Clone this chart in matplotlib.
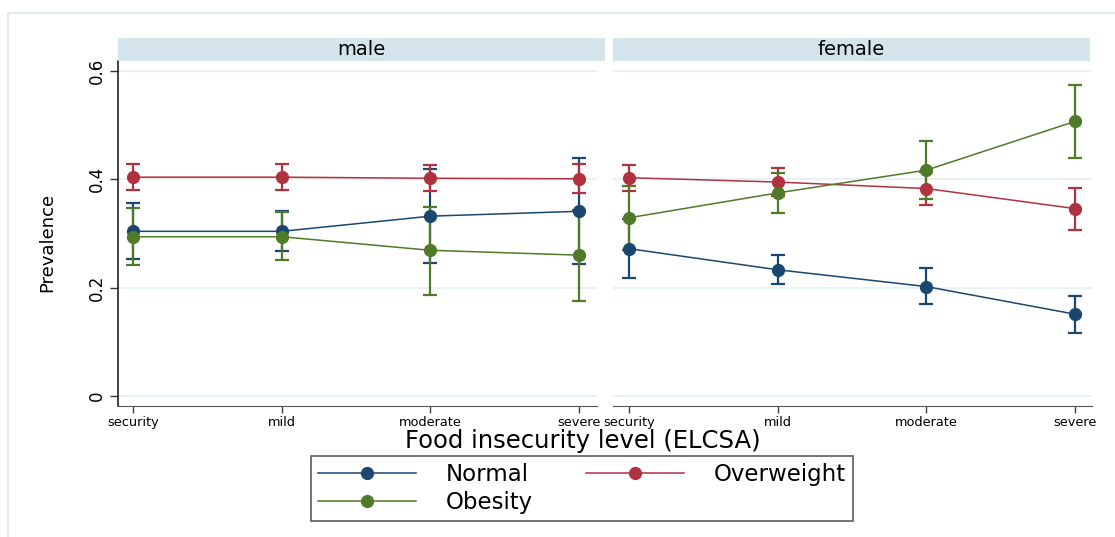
import matplotlib
matplotlib.use("Agg")
import matplotlib.pyplot as plt
from matplotlib.patches import Rectangle
from matplotlib.lines import Line2D

plt.rcParams['font.family'] = ['DejaVu Sans']

levels = ["security", "mild", "moderate", "severe"]
series = ["Normal", "Overweight", "Obesity"]
colors = {"Normal": "#1a476f", "Overweight": "#b0323f", "Obesity": "#4f7a28"}

# prevalence estimates and 95% CI, by sex
male_est = {
    "Normal":     [0.304, 0.304, 0.332, 0.341],
    "Overweight": [0.404, 0.404, 0.402, 0.401],
    "Obesity":    [0.294, 0.294, 0.269, 0.260],
}
male_lo = {
    "Normal":     [0.252, 0.267, 0.245, 0.244],
    "Overweight": [0.380, 0.380, 0.378, 0.374],
    "Obesity":    [0.241, 0.251, 0.187, 0.176],
}
male_hi = {
    "Normal":     [0.357, 0.341, 0.420, 0.439],
    "Overweight": [0.429, 0.429, 0.427, 0.429],
    "Obesity":    [0.347, 0.340, 0.349, 0.344],
}
female_est = {
    "Normal":     [0.272, 0.233, 0.202, 0.151],
    "Overweight": [0.403, 0.395, 0.383, 0.346],
    "Obesity":    [0.329, 0.375, 0.417, 0.507],
}
female_lo = {
    "Normal":     [0.217, 0.207, 0.169, 0.116],
    "Overweight": [0.378, 0.369, 0.353, 0.307],
    "Obesity":    [0.270, 0.337, 0.364, 0.440],
}
female_hi = {
    "Normal":     [0.327, 0.260, 0.237, 0.185],
    "Overweight": [0.427, 0.421, 0.413, 0.384],
    "Obesity":    [0.388, 0.412, 0.470, 0.574],
}

W, H = 1115, 537
fig = plt.figure(figsize=(W / 100, H / 100), dpi=100)


def px_box(x0, y0, x1, y1):
    # pixel box -> figure fraction [left, bottom, width, height]
    return [x0 / W, (H - y1) / H, (x1 - x0) / W, (y1 - y0) / H]


# outer frame
fig.patches.append(Rectangle((8 / W, -0.01), 1.2, (H - 13) / H + 0.01,
                             transform=fig.transFigure, fill=False,
                             edgecolor="#e3e9ed", lw=1.5))

panels = [
    ("male", px_box(118, 61, 597, 406), (-0.101, 3.12), male_est, male_lo, male_hi, (118, 605)),
    ("female", px_box(613, 61, 1092, 406), (-0.108, 3.114), female_est, female_lo, female_hi, (613, 1090)),
]

x = list(range(len(levels)))
for i, (title, box, xlim, est, lo, hi, strip) in enumerate(panels):
    ax = fig.add_axes(box)
    for y in [0, 0.2, 0.4, 0.6]:
        ax.axhline(y, color="#e6eff2", lw=1.2, zorder=0)
    for s in series:
        yerr = [[e - l for e, l in zip(est[s], lo[s])],
                [h - e for e, h in zip(est[s], hi[s])]]
        ax.errorbar(x, est[s], yerr=yerr, color=colors[s], marker="o",
                    markersize=8.5, lw=1.1, elinewidth=1.6, capsize=5, capthick=1.6)
    ax.set_xlim(*xlim)
    ax.set_ylim(-0.0185, 0.6185)
    ax.set_xticks(x)
    ax.set_xticklabels(levels, fontsize=9.3)
    ax.tick_params(axis="x", length=5, width=1, color="#444444", pad=2)
    ax.spines["top"].set_visible(False)
    ax.spines["right"].set_visible(False)
    ax.spines["bottom"].set_color("#555555")
    if i == 0:
        ax.set_yticks([0, 0.2, 0.4, 0.6])
        ax.set_yticklabels(["0", "0.2", "0.4", "0.6"], fontsize=12,
                           rotation=90, va="center")
        ax.tick_params(axis="y", length=6, width=1, color="#333333", pad=3)
        ax.spines["left"].set_color("#222222")
        ax.spines["left"].set_linewidth(1.2)
    else:
        ax.set_yticks([])
        ax.spines["left"].set_visible(False)
    # strip title
    fig.patches.append(Rectangle((strip[0] / W, (H - 61) / H), (strip[1] - strip[0]) / W, 23 / H,
                                 transform=fig.transFigure, facecolor="#d3e5ea",
                                 edgecolor="none"))
    fig.text((strip[0] + strip[1]) / 2 / W, (H - 49.5) / H, title,
             ha="center", va="center", fontsize=14)

fig.text(47 / W, (H - 242) / H, "Prevalence", rotation=90,
         ha="center", va="center", fontsize=13)
fig.text(583 / W, (H - 441) / H, "Food insecurity level (ELCSA)",
         ha="center", va="center", fontsize=17.5)

handles = {s: Line2D([], [], color=colors[s], marker="o", markersize=8.5, lw=1.1)
           for s in series}
order = ["Normal", "Obesity", "Overweight"]
leg = fig.legend([handles[s] for s in order], order, ncol=2,
                 loc="center", bbox_to_anchor=(582 / W, (H - 488.5) / H),
                 fontsize=16.5, frameon=True, fancybox=False,
                 handlelength=4.3, handletextpad=1.3, columnspacing=2.3,
                 labelspacing=0.22, borderpad=0.3)
leg.get_frame().set_edgecolor("#333333")
leg.get_frame().set_linewidth(1.2)

fig.savefig("out.png", dpi=100)
